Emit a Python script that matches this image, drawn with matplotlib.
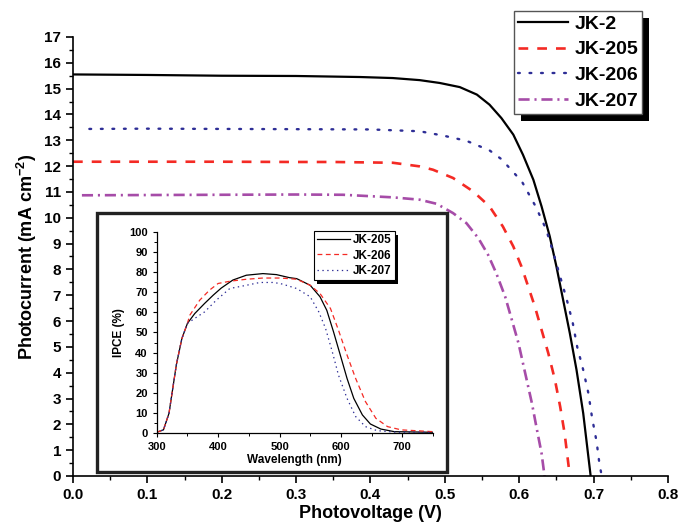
import matplotlib
matplotlib.use("Agg")
import matplotlib.pyplot as plt
from matplotlib.patches import Rectangle
from matplotlib.transforms import IdentityTransform
from matplotlib.ticker import MultipleLocator, FormatStrFormatter

plt.rcParams["font.family"] = ["Liberation Sans", "DejaVu Sans"]
plt.rcParams["font.weight"] = "bold"
plt.rcParams["mathtext.fontset"] = "custom"
plt.rcParams["mathtext.rm"] = "Liberation Sans:bold"
plt.rcParams["mathtext.bf"] = "Liberation Sans:bold"
plt.rcParams["mathtext.it"] = "Liberation Sans:bold:italic"
plt.rcParams["lines.scale_dashes"] = False

# J-V curves (V in volts, J in mA cm-2)
v_jk2 = [0.0, 0.1, 0.2, 0.3, 0.386, 0.43, 0.466, 0.493, 0.52, 0.543, 0.56, 0.576, 0.592, 0.605, 0.619,
         0.63, 0.641, 0.65, 0.659, 0.668, 0.677, 0.686, 0.696]
j_jk2 = [15.55, 15.53, 15.5, 15.49, 15.45, 15.41, 15.33, 15.22, 15.06, 14.77, 14.38, 13.86, 13.22, 12.44, 11.47,
         10.44, 9.28, 8.11, 6.82, 5.53, 4.11, 2.43, 0.0]
v_jk205 = [0.0, 0.1, 0.2, 0.3, 0.35, 0.43, 0.466, 0.484, 0.511, 0.538, 0.56, 0.578, 0.592, 0.603, 0.612,
           0.621, 0.63, 0.639, 0.648, 0.655, 0.661, 0.668]
j_jk205 = [12.17, 12.17, 12.17, 12.16, 12.16, 12.13, 11.99, 11.86, 11.54, 11.02, 10.44, 9.66, 8.89, 8.11, 7.34,
           6.56, 5.66, 4.76, 3.72, 2.69, 1.65, 0.0]
v_jk206 = [0.022, 0.1, 0.2, 0.3, 0.4, 0.466, 0.498, 0.529, 0.56, 0.576, 0.591, 0.604, 0.622, 0.636, 0.646,
           0.655, 0.664, 0.672, 0.678, 0.686, 0.693, 0.698, 0.704, 0.708, 0.711]
j_jk206 = [13.44, 13.45, 13.44, 13.43, 13.42, 13.35, 13.18, 12.98, 12.61, 12.27, 11.8, 11.38, 10.44, 9.56, 8.63,
           7.72, 6.82, 5.92, 4.99, 4.11, 3.2, 2.24, 1.33, 0.43, 0.0]
v_jk207 = [0.012, 0.1, 0.2, 0.3, 0.363, 0.43, 0.466, 0.489, 0.511, 0.529, 0.545, 0.558, 0.569, 0.581, 0.59,
           0.599, 0.608, 0.617, 0.623, 0.63, 0.634]
j_jk207 = [10.87, 10.88, 10.89, 10.9, 10.89, 10.79, 10.7, 10.54, 10.18, 9.79, 9.21, 8.57, 7.86, 6.95, 6.05,
           5.14, 3.98, 2.82, 1.91, 0.88, 0.0]

# IPCE spectra (nm, %)
wl_205 = [300, 311, 320, 332, 341, 350, 362, 378, 392, 405, 424, 446, 473, 495, 516, 528, 550, 566, 577, 588, 599, 610, 621, 635, 648, 665, 687, 750]
ipce_205 = [0.5, 1.7, 9.9, 34, 47, 54.5, 59.4, 64.4, 68.5, 72, 76, 78.4, 79.2, 78.7, 77.2, 76.7, 73.4, 67.7, 61, 50.3, 38.8, 27.2, 17.3, 9.1, 4.6, 2.1, 0.8, 0.5]
wl_206 = [300, 311, 320, 332, 341, 350, 354, 370, 386, 400, 419, 446, 473, 500, 516, 528, 550, 566, 583, 596, 610, 624, 640, 657, 676, 698, 750]
ipce_206 = [0.5, 1.7, 9.9, 34, 47, 54.5, 58.6, 66, 71, 74.3, 75.4, 76.4, 77, 77, 76.7, 76.4, 73.4, 69.3, 61.9, 51.2, 38.8, 27.2, 15.7, 7.4, 3.3, 1.7, 0.8]
wl_207 = [300, 311, 320, 332, 341, 350, 362, 378, 397, 419, 446, 468, 489, 501, 511, 528, 550, 564, 575, 586, 596, 610, 624, 640, 659, 692, 750]
ipce_207 = [0.5, 1.7, 9.9, 34, 47, 54.5, 57, 60.2, 66, 71.8, 73.4, 74.8, 74.8, 74.3, 73.4, 71.8, 67.7, 60.2, 52, 40.4, 28.9, 17.3, 8.3, 3.3, 1.3, 0.5, 0.5]

RED = "#f42a24"; BLUE = "#2e2e96"; PURPLE = "#a64ca8"

fig = plt.figure(figsize=(6.79, 5.30), dpi=100)
ax = fig.add_axes([0.1075, 0.1019, 0.8763, 0.8283])
ax.plot(v_jk2, j_jk2, color="black", lw=1.6, label="JK-2")
ax.plot(v_jk205, j_jk205, color=RED, lw=1.9, dashes=(7, 6.5), label="JK-205")
ax.plot(v_jk206, j_jk206, color=BLUE, lw=1.7, dashes=(1.3, 7), dash_capstyle="round", label="JK-206")
ax.plot(v_jk207, j_jk207, color=PURPLE, lw=1.9, dashes=(8, 3.5, 1.5, 3.5), label="JK-207")
ax.set_xlim(0, 0.8); ax.set_ylim(0, 17)
ax.xaxis.set_major_locator(MultipleLocator(0.1)); ax.xaxis.set_minor_locator(MultipleLocator(0.05))
ax.yaxis.set_major_locator(MultipleLocator(1)); ax.yaxis.set_minor_locator(MultipleLocator(0.5))
ax.xaxis.set_major_formatter(FormatStrFormatter("%.1f"))
for s in ["top", "right"]: ax.spines[s].set_visible(False)
for s in ["left", "bottom"]: ax.spines[s].set_linewidth(1.2)
ax.tick_params(which="major", direction="out", length=5, width=1.2, labelsize=11)
ax.tick_params(which="minor", direction="out", length=3, width=1.0)
ax.set_xlabel("Photovoltage (V)", fontsize=13, fontweight="bold", labelpad=2)
ax.set_ylabel("Photocurrent (mA cm$^{-2}$)", fontsize=13, fontweight="bold", labelpad=4)
leg = ax.legend(loc="upper right", bbox_to_anchor=(0.956, 1.059), fontsize=14, handlelength=2.6,
                handletextpad=0.3, labelspacing=0.42, borderpad=0.2, borderaxespad=0,
                fancybox=False, framealpha=1, edgecolor="#555555")
leg.get_frame().set_linewidth(1.0)

# inset frame and axes
fig.patches.append(Rectangle((0.1429, 0.1094), 0.5155, 0.4887, transform=fig.transFigure,
                             fill=False, edgecolor="#222222", lw=2.4, zorder=3))
ins = fig.add_axes([0.2308, 0.1825, 0.4069, 0.3804], zorder=4)
ins.plot(wl_205, ipce_205, color="black", lw=0.9, label="JK-205")
ins.plot(wl_206, ipce_206, color=RED, lw=0.9, dashes=(3.5, 2.5), label="JK-206")
ins.plot(wl_207, ipce_207, color=BLUE, lw=0.9, dashes=(1, 2.5), label="JK-207")
ins.set_xlim(300, 750); ins.set_ylim(0, 100)
ins.xaxis.set_major_locator(MultipleLocator(100)); ins.xaxis.set_minor_locator(MultipleLocator(50))
ins.yaxis.set_major_locator(MultipleLocator(10)); ins.yaxis.set_minor_locator(MultipleLocator(5))
for s in ["top", "right"]: ins.spines[s].set_visible(False)
for s in ["left", "bottom"]: ins.spines[s].set_linewidth(0.9)
ins.tick_params(which="major", direction="out", length=3, width=0.8, labelsize=8)
ins.tick_params(which="minor", direction="out", length=2, width=0.7)
ins.set_xlabel("Wavelength (nm)", fontsize=8.5, fontweight="bold", labelpad=1)
ins.set_ylabel("IPCE (%)", fontsize=8.5, fontweight="bold", labelpad=3)
ileg = ins.legend(loc="upper right", bbox_to_anchor=(0.862, 1.003), fontsize=8.5, handlelength=2.8,
                  handletextpad=0.3, labelspacing=0.3, borderpad=0.25, borderaxespad=0,
                  fancybox=False, framealpha=1, edgecolor="black")
ileg.get_frame().set_linewidth(0.8)

# black drop shadows behind the legends
fig.canvas.draw()
for a, lg, off in [(ax, leg, 7), (ins, ileg, 3.5)]:
    bb = lg.get_window_extent()
    a.add_patch(Rectangle((bb.x0 + off, bb.y0 - off), bb.width, bb.height, transform=IdentityTransform(),
                          facecolor="black", edgecolor="none", zorder=4.9, clip_on=False))

fig.savefig("out.png", dpi=100)
